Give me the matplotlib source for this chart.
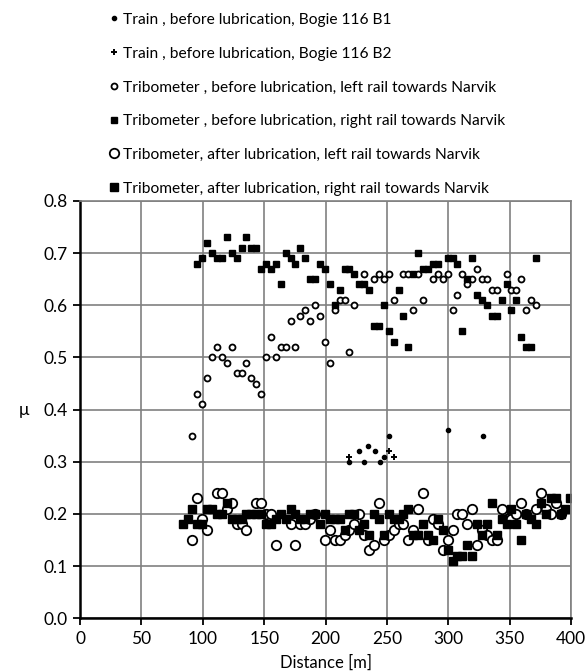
import matplotlib
matplotlib.use("Agg")
import matplotlib.pyplot as plt
import numpy as np

fnt = "Lato"
plt.rcParams['font.family'] = [fnt, 'DejaVu Sans']

# train, before lubrication
b1_x = [219, 227, 231, 235, 240, 244, 247.5, 251.5, 300, 328.5]
b1_y = [0.30, 0.32, 0.30, 0.33, 0.32, 0.30, 0.31, 0.35, 0.36, 0.35]
b2_x = [219, 251.5, 255.5]
b2_y = [0.31, 0.32, 0.31]

# tribometer, before lubrication, left rail
bl_x = [91.5, 95.5, 99.5, 103.5, 107.5, 111.5, 115.5, 119.5, 123.5, 127.5, 131.5, 135.5,
        139.5, 143.5, 147.5, 151.5, 155.5, 159.5, 163.5, 167.5, 171.5, 175.5, 179.5, 183.5,
        187.5, 191.5, 195.5, 199.5, 203.5, 207.5, 211.5, 215.5, 219.5, 223.5, 231.5, 239.5,
        243.5, 247.5, 251.5, 255.5, 263.5, 267.5, 271.5, 275.5, 279.5, 287.5, 291.5, 295.5,
        299.5, 303.5, 307.5, 311.5, 315.5, 319.5, 323.5, 327.5, 331.5, 335.5, 339.5, 347.5,
        351.5, 355.5, 359.5, 363.5, 367.5, 371.5]
bl_y = [0.35, 0.43, 0.41, 0.46, 0.50, 0.52, 0.50, 0.49, 0.52, 0.47, 0.47, 0.49,
        0.46, 0.45, 0.43, 0.50, 0.54, 0.50, 0.52, 0.52, 0.57, 0.52, 0.58, 0.59,
        0.57, 0.60, 0.58, 0.53, 0.49, 0.59, 0.61, 0.61, 0.51, 0.60, 0.66, 0.65,
        0.66, 0.65, 0.66, 0.61, 0.66, 0.66, 0.59, 0.66, 0.61, 0.65, 0.66, 0.65,
        0.66, 0.59, 0.62, 0.66, 0.64, 0.65, 0.67, 0.65, 0.65, 0.63, 0.63, 0.66,
        0.63, 0.63, 0.65, 0.59, 0.61, 0.60]

# tribometer, before lubrication, right rail
br_x = [95.5, 99.5, 103.5, 107.5, 111.5, 115.5, 119.5, 123.5, 127.5, 131.5, 135.5, 139.5,
        143.5, 147.5, 151.5, 155.5, 159.5, 163.5, 167.5, 171.5, 175.5, 179.5, 183.5, 187.5,
        191.5, 195.5, 199.5, 203.5, 207.5, 211.5, 215.5, 219.5, 223.5, 227.5, 231.5, 235.5,
        239.5, 243.5, 247.5, 251.5, 255.5, 259.5, 263.5, 267.5, 271.5, 275.5, 279.5, 283.5,
        287.5, 291.5, 299.5, 303.5, 307.5, 311.5, 315.5, 319.5, 323.5, 327.5, 331.5, 335.5,
        339.5, 343.5, 347.5, 351.5, 355.5, 359.5, 363.5, 367.5, 371.5]
br_y = [0.68, 0.69, 0.72, 0.70, 0.69, 0.69, 0.73, 0.70, 0.69, 0.71, 0.73, 0.71,
        0.71, 0.67, 0.68, 0.67, 0.68, 0.64, 0.70, 0.69, 0.68, 0.71, 0.69, 0.65,
        0.65, 0.68, 0.67, 0.64, 0.60, 0.63, 0.67, 0.67, 0.66, 0.64, 0.64, 0.63,
        0.56, 0.56, 0.60, 0.55, 0.53, 0.63, 0.58, 0.52, 0.66, 0.70, 0.67, 0.67,
        0.68, 0.68, 0.69, 0.69, 0.68, 0.55, 0.65, 0.69, 0.62, 0.61, 0.60, 0.58,
        0.58, 0.61, 0.64, 0.59, 0.61, 0.54, 0.52, 0.52, 0.69]

# tribometer, after lubrication, left rail
al_x = [91.5, 95.5, 99.5, 103.5, 111.5, 115.5, 119.5, 123.5, 127.5, 131.5, 135.5, 143.5,
        147.5, 151.5, 155.5, 159.5, 171.5, 175.5, 179.5, 183.5, 187.5, 191.5, 199.5, 203.5,
        207.5, 211.5, 215.5, 219.5, 223.5, 227.5, 231.5, 235.5, 239.5, 243.5, 247.5, 251.5,
        255.5, 259.5, 263.5, 267.5, 271.5, 275.5, 279.5, 283.5, 287.5, 291.5, 295.5, 299.5,
        303.5, 307.5, 311.5, 315.5, 319.5, 323.5, 327.5, 331.5, 335.5, 339.5, 343.5, 347.5,
        351.5, 355.5, 359.5, 363.5, 371.5, 375.5, 379.5, 383.5, 387.5, 391.5]
al_y = [0.15, 0.23, 0.19, 0.17, 0.24, 0.24, 0.21, 0.22, 0.18, 0.18, 0.17, 0.22,
        0.22, 0.20, 0.20, 0.14, 0.18, 0.14, 0.18, 0.18, 0.19, 0.20, 0.15, 0.17,
        0.15, 0.15, 0.16, 0.17, 0.18, 0.20, 0.16, 0.13, 0.14, 0.22, 0.15, 0.16,
        0.17, 0.18, 0.18, 0.15, 0.17, 0.21, 0.24, 0.15, 0.19, 0.18, 0.13, 0.15,
        0.17, 0.20, 0.20, 0.18, 0.21, 0.14, 0.17, 0.16, 0.15, 0.15, 0.21, 0.19,
        0.19, 0.20, 0.22, 0.20, 0.21, 0.24, 0.21, 0.20, 0.22, 0.20]

# tribometer, after lubrication, right rail
ar_x = [83.5, 87.5, 91.5, 95.5, 99.5, 103.5, 107.5, 111.5, 115.5, 119.5, 123.5, 127.5,
        131.5, 135.5, 139.5, 143.5, 147.5, 151.5, 155.5, 159.5, 163.5, 167.5, 171.5, 175.5,
        179.5, 183.5, 187.5, 191.5, 195.5, 199.5, 203.5, 207.5, 211.5, 215.5, 219.5, 223.5,
        227.5, 231.5, 235.5, 239.5, 243.5, 247.5, 251.5, 255.5, 259.5, 263.5, 267.5, 271.5,
        275.5, 279.5, 283.5, 287.5, 291.5, 295.5, 299.5, 303.5, 307.5, 311.5, 315.5, 319.5,
        323.5, 327.5, 331.5, 335.5, 339.5, 343.5, 347.5, 351.5, 355.5, 359.5, 363.5, 367.5,
        371.5, 375.5, 379.5, 383.5, 387.5, 391.5, 395.5, 399.5]
ar_y = [0.18, 0.19, 0.21, 0.18, 0.18, 0.21, 0.21, 0.20, 0.20, 0.22, 0.19, 0.19,
        0.19, 0.20, 0.20, 0.20, 0.20, 0.18, 0.18, 0.19, 0.20, 0.19, 0.21, 0.20,
        0.19, 0.19, 0.20, 0.20, 0.18, 0.20, 0.19, 0.19, 0.19, 0.17, 0.20, 0.20,
        0.17, 0.18, 0.16, 0.20, 0.19, 0.16, 0.20, 0.19, 0.19, 0.20, 0.21, 0.16,
        0.16, 0.18, 0.16, 0.15, 0.19, 0.17, 0.13, 0.11, 0.12, 0.12, 0.14, 0.12,
        0.18, 0.16, 0.18, 0.22, 0.16, 0.19, 0.18, 0.21, 0.18, 0.15, 0.20, 0.19,
        0.18, 0.22, 0.20, 0.23, 0.23, 0.20, 0.21, 0.23]

labels = ["Train , before lubrication, Bogie 116 B1",
          "Train , before lubrication, Bogie 116 B2",
          "Tribometer , before lubrication, left rail towards Narvik",
          "Tribometer , before lubrication, right rail towards Narvik",
          "Tribometer, after lubrication, left rail towards Narvik",
          "Tribometer, after lubrication, right rail towards Narvik"]

fig = plt.figure(figsize=(5.85, 6.72), dpi=100)
ax = fig.add_axes([0.137, 0.080, 0.839, 0.621])

ax.grid(visible=True, which='major', color='#808080', linewidth=1.2)
ax.set_axisbelow(True)

h1, = ax.plot(b1_x, b1_y, 'o', color='k', markersize=3, linestyle='none', label=labels[0])
h2, = ax.plot(b2_x, b2_y, '+', color='k', markersize=5, markeredgewidth=1.4, linestyle='none', label=labels[1])
h3, = ax.plot(bl_x, bl_y, 'o', mfc='white', mec='k', markersize=4.3, markeredgewidth=1.3, linestyle='none', label=labels[2])
h4, = ax.plot(br_x, br_y, 's', color='k', markersize=4.6, linestyle='none', label=labels[3])
h5, = ax.plot(al_x, al_y, 'o', mfc='white', mec='k', markersize=6.8, markeredgewidth=1.3, linestyle='none', label=labels[4])
h6, = ax.plot(ar_x, ar_y, 's', color='k', markersize=5.6, linestyle='none', label=labels[5])

ax.set_xlim(0, 400)
ax.set_ylim(0, 0.8)
ax.set_xticks(np.arange(0, 401, 50))
ax.set_yticks(np.arange(0, 0.81, 0.1))
ax.set_yticklabels(["%.1f" % v for v in np.arange(0, 0.81, 0.1)])
ax.tick_params(direction='out', length=5, width=1.3, labelsize=12.5, color='k', pad=4)

for s in ['top', 'right']:
    ax.spines[s].set_color('#808080')
    ax.spines[s].set_linewidth(1.2)
for s in ['left', 'bottom']:
    ax.spines[s].set_color('k')
    ax.spines[s].set_linewidth(1.8)

ax.set_xlabel("Distance [m]", fontsize=12, labelpad=6)
ax.set_ylabel("μ", fontsize=12.5, rotation=0, labelpad=14, va='center')

fig.legend(handles=[h1, h2, h3, h4, h5, h6], loc='upper left', bbox_to_anchor=(0.168, 0.997),
           frameon=False, fontsize=11.2, handlelength=0.6, handletextpad=0.3,
           labelspacing=1.27, borderpad=0.2)

fig.savefig("out.png", dpi=100)
plt.close(fig)
